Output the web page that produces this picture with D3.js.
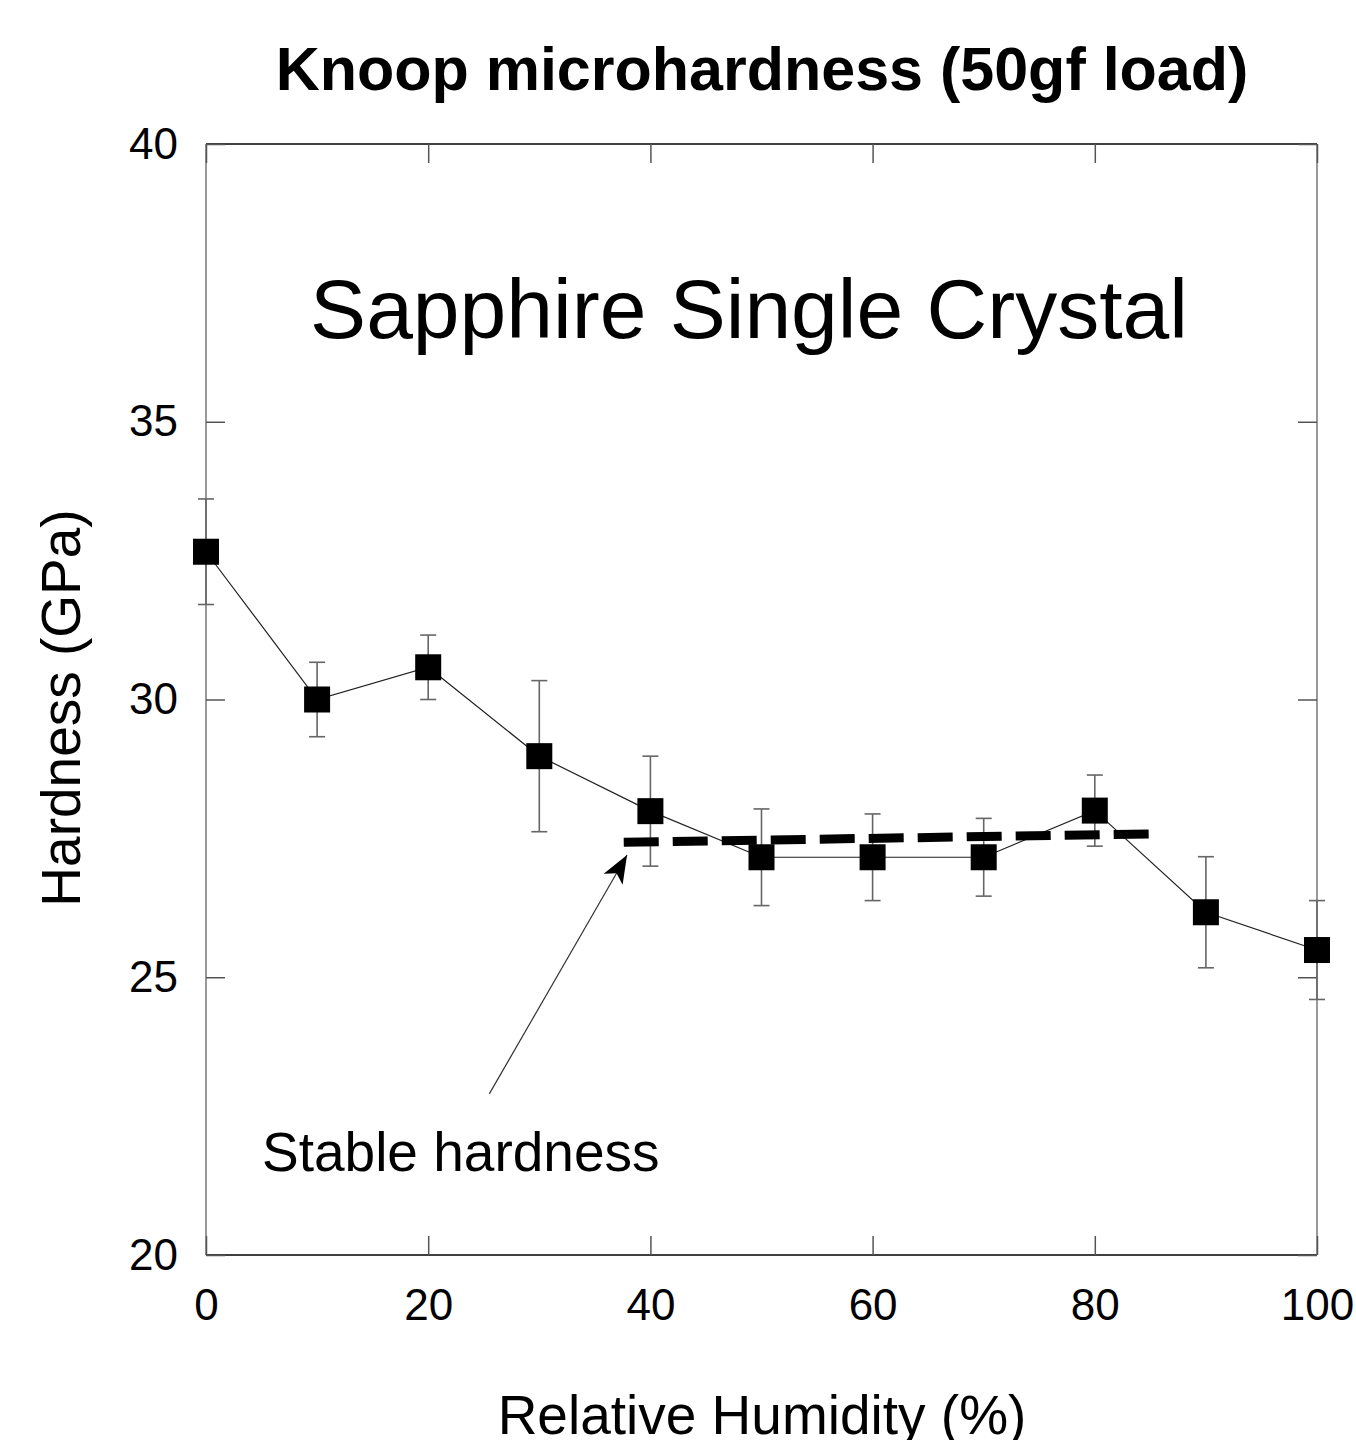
<!DOCTYPE html>
<html>
<head>
<meta charset="utf-8">
<script src="https://cdn.jsdelivr.net/npm/d3@7"></script>
<style>
  body { margin: 0; background: #fff; }
  svg { font-family: "Liberation Sans", Arial, sans-serif; display: block; }
</style>
</head>
<body>
<div id="chart"></div>
<script>
// Data
const humidity = [0, 10, 20, 30, 40, 50, 60, 70, 80, 90, 100];
const hardness = [32.66, 30.0, 30.58, 28.98, 27.99, 27.16, 27.16, 27.16, 28.0, 26.17, 25.49];
const errors = [0.95, 0.67, 0.58, 1.36, 0.99, 0.87, 0.78, 0.7, 0.64, 1.0, 0.89];
const stableLine = [[37.6, 27.43], [85.2, 27.58]];
const arrowPts = [[25.5, 22.9], [37.9, 27.2]];
const xTicks = [0, 20, 40, 60, 80, 100];
const yTicks = [20, 25, 30, 35, 40];

const width = 1356, height = 1440;
const margin = { left: 206, right: 39, top: 144, bottom: 185 };

const svg = d3.select("#chart").append("svg")
  .attr("width", width)
  .attr("height", height);

const x = d3.scaleLinear().domain([0, 100]).range([margin.left, width - margin.right]);
const y = d3.scaleLinear().domain([20, 40]).range([height - margin.bottom, margin.top]);

// Frame
svg.append("line").attr("x1", x(0)).attr("x2", x(100)).attr("y1", y(40)).attr("y2", y(40))
  .attr("stroke", "#000").attr("stroke-width", 1.5);
svg.append("line").attr("x1", x(0)).attr("x2", x(100)).attr("y1", y(20)).attr("y2", y(20))
  .attr("stroke", "#000").attr("stroke-width", 1.5);
svg.append("line").attr("x1", x(0)).attr("x2", x(0)).attr("y1", y(40)).attr("y2", y(20))
  .attr("stroke", "#777").attr("stroke-width", 1.5);
svg.append("line").attr("x1", x(100)).attr("x2", x(100)).attr("y1", y(40)).attr("y2", y(20))
  .attr("stroke", "#777").attr("stroke-width", 1.5);

// Axes with inward ticks
const xAxisB = svg.append("g").attr("transform", `translate(0,${y(20)})`)
  .call(d3.axisBottom(x).tickValues(xTicks).tickSizeInner(-19).tickSizeOuter(0).tickPadding(34));
const xAxisT = svg.append("g").attr("transform", `translate(0,${y(40)})`)
  .call(d3.axisTop(x).tickValues(xTicks).tickSizeInner(-19).tickSizeOuter(0).tickFormat(""));
const yAxisL = svg.append("g").attr("transform", `translate(${x(0)},0)`)
  .call(d3.axisLeft(y).tickValues(yTicks).tickSizeInner(-19).tickSizeOuter(0).tickPadding(28));
const yAxisR = svg.append("g").attr("transform", `translate(${x(100)},0)`)
  .call(d3.axisRight(y).tickValues(yTicks).tickSizeInner(-19).tickSizeOuter(0).tickFormat(""));

[xAxisB, xAxisT, yAxisL, yAxisR].forEach(a => {
  a.select(".domain").remove();
  a.selectAll(".tick line").attr("stroke", "#555").attr("stroke-width", 1.5);
  a.selectAll("text").attr("font-size", 44).attr("fill", "#000")
    .attr("font-family", "Liberation Sans, Arial, sans-serif");
});
xAxisB.selectAll("text").attr("dy", "0.71em");

// Connecting line
svg.append("path")
  .datum(humidity.map((h, i) => [h, hardness[i]]))
  .attr("fill", "none")
  .attr("stroke", "#222")
  .attr("stroke-width", 1.2)
  .attr("d", d3.line().x(d => x(d[0])).y(d => y(d[1])));

// Error bars
const eb = svg.append("g").attr("stroke", "#666").attr("stroke-width", 1.6);
humidity.forEach((h, i) => {
  const cx = x(h), lo = y(hardness[i] - errors[i]), hi = y(hardness[i] + errors[i]);
  eb.append("line").attr("x1", cx).attr("x2", cx).attr("y1", lo).attr("y2", hi);
  eb.append("line").attr("x1", cx - 8).attr("x2", cx + 8).attr("y1", lo).attr("y2", lo);
  eb.append("line").attr("x1", cx - 8).attr("x2", cx + 8).attr("y1", hi).attr("y2", hi);
});

// Markers
const ms = 26;
svg.append("g").selectAll("rect")
  .data(humidity.map((h, i) => [h, hardness[i]]))
  .join("rect")
  .attr("x", d => x(d[0]) - ms / 2)
  .attr("y", d => y(d[1]) - ms / 2)
  .attr("width", ms)
  .attr("height", ms)
  .attr("fill", "#000");

// Stable hardness dashed line
svg.append("line")
  .attr("x1", x(stableLine[0][0])).attr("y1", y(stableLine[0][1]))
  .attr("x2", x(stableLine[1][0])).attr("y2", y(stableLine[1][1]))
  .attr("stroke", "#000").attr("stroke-width", 9)
  .attr("stroke-dasharray", "35,14");

// Arrow
svg.append("defs").append("marker")
  .attr("id", "arrowhead")
  .attr("viewBox", "0 0 28 22")
  .attr("refX", 28).attr("refY", 11)
  .attr("markerWidth", 28).attr("markerHeight", 22)
  .attr("markerUnits", "userSpaceOnUse")
  .attr("orient", "auto")
  .append("path").attr("d", "M0,0 L28,11 L0,22 L7,11 Z").attr("fill", "#000");

svg.append("line")
  .attr("x1", x(arrowPts[0][0])).attr("y1", y(arrowPts[0][1]))
  .attr("x2", x(arrowPts[1][0])).attr("y2", y(arrowPts[1][1]))
  .attr("stroke", "#333").attr("stroke-width", 1.2)
  .attr("marker-end", "url(#arrowhead)");

// Annotations
svg.append("text")
  .attr("x", 262).attr("y", 1171)
  .attr("font-size", 55)
  .text("Stable hardness");

svg.append("text")
  .attr("x", 749).attr("y", 338)
  .attr("text-anchor", "middle")
  .attr("font-size", 84)
  .text("Sapphire Single Crystal");

// Title
svg.append("text")
  .attr("x", 762).attr("y", 90)
  .attr("text-anchor", "middle")
  .attr("font-size", 61)
  .attr("font-weight", "bold")
  .text("Knoop microhardness (50gf load)");

// Axis titles
svg.append("text")
  .attr("x", 762).attr("y", 1434)
  .attr("text-anchor", "middle")
  .attr("font-size", 55)
  .text("Relative Humidity (%)");

svg.append("text")
  .attr("transform", `translate(80,708) rotate(-90)`)
  .attr("text-anchor", "middle")
  .attr("font-size", 55)
  .text("Hardness (GPa)");
</script>
</body>
</html>
